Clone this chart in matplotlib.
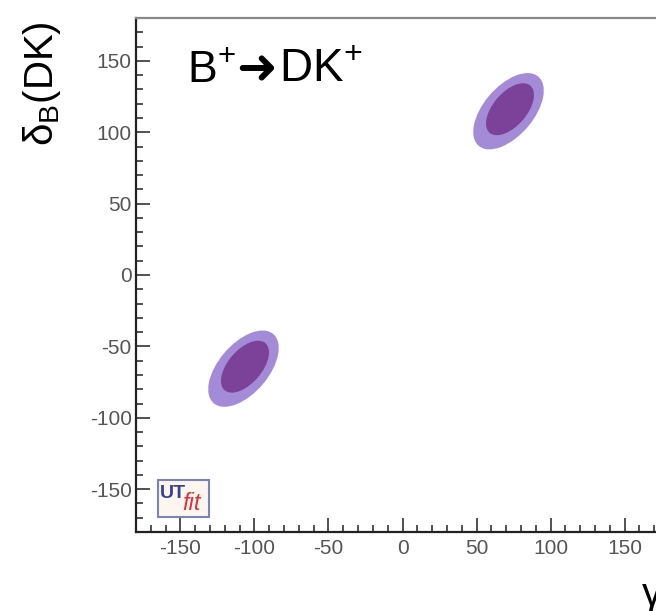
import matplotlib
matplotlib.use("Agg")
import matplotlib.pyplot as plt
from matplotlib.patches import Ellipse, Rectangle
from matplotlib.ticker import MultipleLocator

plt.rcParams["font.family"] = ["Liberation Sans", "DejaVu Sans"]
plt.rcParams["mathtext.fontset"] = "custom"
plt.rcParams["mathtext.rm"] = "Liberation Sans"
plt.rcParams["mathtext.it"] = "Liberation Sans:italic"
plt.rcParams["axes.unicode_minus"] = False

# 兩個解（gamma, delta_B），相差 180 度
sol_gamma_95 = [71.6, -107.4]
sol_delta_95 = [114.7, -65.6]
sol_gamma_68 = [72.6, -106.4]
sol_delta_68 = [116.1, -64.2]

# 區域大小（長軸 / 短軸全長，傾角）
size_95 = (63.0, 34.0)
size_68 = (43.0, 23.0)
tilt = 51.0

color_95 = "#a48bd8"
color_68 = "#7c4199"

W, H = 656, 611
fig = plt.figure(figsize=(W / 100, H / 100), dpi=100)
ax = fig.add_axes([136 / W, 1 - 532 / H, 533 / W, 514 / H])

for g, d in zip(sol_gamma_95, sol_delta_95):
    ax.add_patch(Ellipse((g, d), size_95[0], size_95[1], angle=tilt,
                         facecolor=color_95, edgecolor="none"))
for g, d in zip(sol_gamma_68, sol_delta_68):
    ax.add_patch(Ellipse((g, d), size_68[0], size_68[1], angle=tilt,
                         facecolor=color_68, edgecolor="none"))

ax.set_xlim(-180, 180)
ax.set_ylim(-180, 180)
ax.xaxis.set_major_locator(MultipleLocator(50))
ax.xaxis.set_minor_locator(MultipleLocator(10))
ax.yaxis.set_major_locator(MultipleLocator(50))
ax.yaxis.set_minor_locator(MultipleLocator(10))
ax.tick_params(which="both", direction="in", top=False, right=False,
               colors="#333333", labelcolor="#555555", labelsize=15)
ax.tick_params(which="major", length=10, width=1.2)
ax.tick_params(which="minor", length=5, width=1.2)
ax.tick_params(axis="x", pad=5)
ax.tick_params(axis="y", pad=3)

for s in ["left", "bottom"]:
    ax.spines[s].set_linewidth(1.6)
    ax.spines[s].set_color("#222222")
ax.spines["top"].set_linewidth(1.6)
ax.spines["top"].set_color("#888888")

# 標題：B+ ➜ DK+（分三段，箭頭用 DejaVu 的粗箭頭）
base_y = 1 - 82 / H
fig.text(187 / W, base_y, r"$\mathregular{B^{+}}$", fontsize=32,
         ha="left", va="baseline")
fig.text(236 / W, 1 - 83 / H, "➜", fontsize=35, family="DejaVu Sans",
         ha="left", va="baseline")
fig.text(279 / W, base_y, r"$\mathregular{DK^{+}}$", fontsize=33,
         ha="left", va="baseline")

fig.text(42 / W, 1 - 21 / H, r"$\mathregular{\delta_{B}(DK)}$",
         rotation=90, ha="center", va="top", fontsize=29)
fig.text(642 / W, 1 - 576 / H, "γ", ha="left", va="top", fontsize=29)

# UTfit logo
ax.add_patch(Rectangle((22 / 533, 15 / 514), 51 / 533, 37 / 514,
                       transform=ax.transAxes, facecolor="#fbf7ee",
                       edgecolor="#7b82bf", linewidth=1.5))
ax.text(24 / 533, 39 / 514, "UT", transform=ax.transAxes, fontsize=14,
        fontweight="bold", color="#3b428c", ha="left", va="center")
ax.text(46 / 533, 29 / 514, "fit", transform=ax.transAxes, fontsize=17,
        fontstyle="italic", color="#e0303f", ha="left", va="center")

fig.savefig("out.png", dpi=100)
